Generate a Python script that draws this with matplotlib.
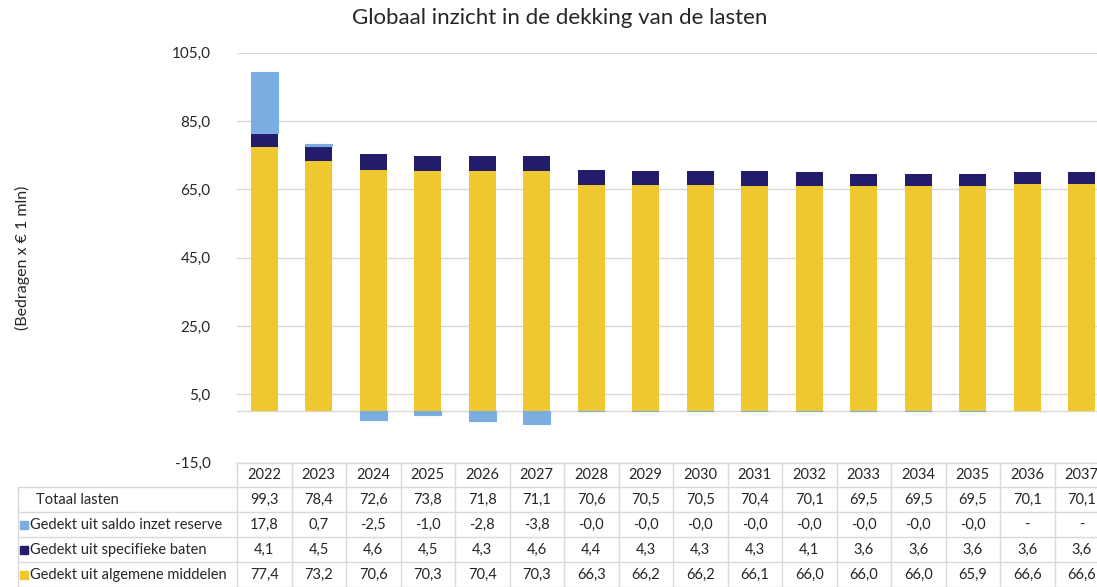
import matplotlib
matplotlib.use("Agg")
import matplotlib.pyplot as plt
import numpy as np

years = ["2022", "2023", "2024", "2025", "2026", "2027", "2028", "2029",
         "2030", "2031", "2032", "2033", "2034", "2035", "2036", "2037"]
totaal_lasten = [99.3, 78.4, 72.6, 73.8, 71.8, 71.1, 70.6, 70.5,
                 70.5, 70.4, 70.1, 69.5, 69.5, 69.5, 70.1, 70.1]
saldo_reserve = [17.8, 0.7, -2.5, -1.0, -2.8, -3.8, -0.04, -0.04,
                 -0.04, -0.04, -0.04, -0.04, -0.04, -0.04, None, None]
specifieke_baten = [4.1, 4.5, 4.6, 4.5, 4.3, 4.6, 4.4, 4.3,
                    4.3, 4.3, 4.1, 3.6, 3.6, 3.6, 3.6, 3.6]
algemene_middelen = [77.4, 73.2, 70.6, 70.3, 70.4, 70.3, 66.3, 66.2,
                     66.2, 66.1, 66.0, 66.0, 66.0, 65.9, 66.6, 66.6]
row_labels = ["Totaal lasten", "Gedekt uit saldo inzet reserve",
              "Gedekt uit specifieke baten", "Gedekt uit algemene middelen"]
yticks = [-15, 5, 25, 45, 65, 85, 105]

c_blue = "#7aade0"
c_navy = "#231c6b"
c_yellow = "#eec82e"
grid_c = "#d9d9d9"
txt_c = "#262626"
FONT = "Lato"

W, H = 1097, 587
fig = plt.figure(figsize=(W / 100, H / 100), dpi=100)

x0_px, colw = 237.0, 54.5
n = len(years)
right_px = x0_px + colw * n
top_px, bot_px = 52.7, 462.6

ax = fig.add_axes([x0_px / W, 1 - bot_px / H, (right_px - x0_px) / W, (bot_px - top_px) / H])
x = np.arange(n)
res = np.array([0.0 if v is None else v for v in saldo_reserve])
spec = np.array(specifieke_baten)
alg = np.array(algemene_middelen)

ax.bar(x, alg, width=0.5, color=c_yellow, zorder=3)
ax.bar(x, spec, width=0.5, bottom=alg, color=c_navy, zorder=3)
pos_bottom = np.where(res >= 0, alg + spec, 0)
has = np.array([v is not None for v in saldo_reserve])
ax.bar(x[has], res[has], width=0.5, bottom=pos_bottom[has], color=c_blue,
       edgecolor=c_blue, linewidth=0.8, zorder=3)

ax.set_xlim(-0.5, n - 0.5)
ax.set_ylim(-15, 105)
ax.set_yticks(yticks)
ax.set_yticklabels([f"{v:.1f}".replace(".", ",") for v in yticks],
                   fontsize=11, color=txt_c, family=FONT)
ax.tick_params(axis="y", length=0, pad=19)
ax.set_xticks([])
ax.grid(axis="y", color=grid_c, linewidth=1, zorder=0)
ax.axhline(0, color=grid_c, linewidth=1, zorder=1)
for s in ax.spines.values():
    s.set_visible(False)

fig.text(22 / W, 1 - 258 / H, "(Bedragen x € 1 mln)", rotation=90, ha="center",
         va="center", fontsize=11.5, color=txt_c, family=FONT)
fig.text(560 / W, 1 - 18 / H, "Globaal inzicht in de dekking van de lasten",
         ha="center", va="center", fontsize=16, color=txt_c, family=FONT)

# table
lab_left_px = 18.0
row_h = (H - bot_px) / 5.0
tax = fig.add_axes([lab_left_px / W, 0, (right_px - lab_left_px) / W, (H - bot_px) / H])
xl = -0.5 - (x0_px - lab_left_px) / colw
tax.set_xlim(xl, n - 0.5)
tax.set_ylim(5, 0)
tax.axis("off")


def fmt(v):
    if v is None:
        return "-"
    return f"{v:.1f}".replace(".", ",")


rows = [totaal_lasten, saldo_reserve, specifieke_baten, algemene_middelen]
for i in range(n + 1):
    tax.plot([i - 0.5, i - 0.5], [0, 5], color=grid_c, lw=1, clip_on=False)
tax.plot([xl, xl], [1, 5], color=grid_c, lw=1, clip_on=False)
tax.plot([-0.5, n - 0.5], [0, 0], color=grid_c, lw=1, clip_on=False)
for r in range(1, 6):
    tax.plot([xl, n - 0.5], [r, r], color=grid_c, lw=1, clip_on=False)
for j, yr in enumerate(years):
    tax.text(j, 0.5, yr, ha="center", va="center", fontsize=10.5, color=txt_c, family=FONT)
for r, vals in enumerate(rows):
    for j, v in enumerate(vals):
        tax.text(j, r + 1.5, fmt(v), ha="center", va="center", fontsize=10.5,
                 color=txt_c, family=FONT)
keys = [None, c_blue, c_navy, c_yellow]
for r, lab in enumerate(row_labels):
    yc = 1 - (bot_px + row_h * (r + 1.5)) / H
    if keys[r] is None:
        fig.text(36 / W, yc, lab, ha="left", va="center", fontsize=10.5,
                 color=txt_c, family=FONT)
    else:
        fig.patches.append(plt.Rectangle((20 / W, yc - 4 / H), 8 / W, 8 / H,
                                         transform=fig.transFigure, color=keys[r]))
        fig.text(30 / W, yc, lab, ha="left", va="center", fontsize=10.5,
                 color=txt_c, family=FONT)

fig.savefig("out.png", dpi=100)
